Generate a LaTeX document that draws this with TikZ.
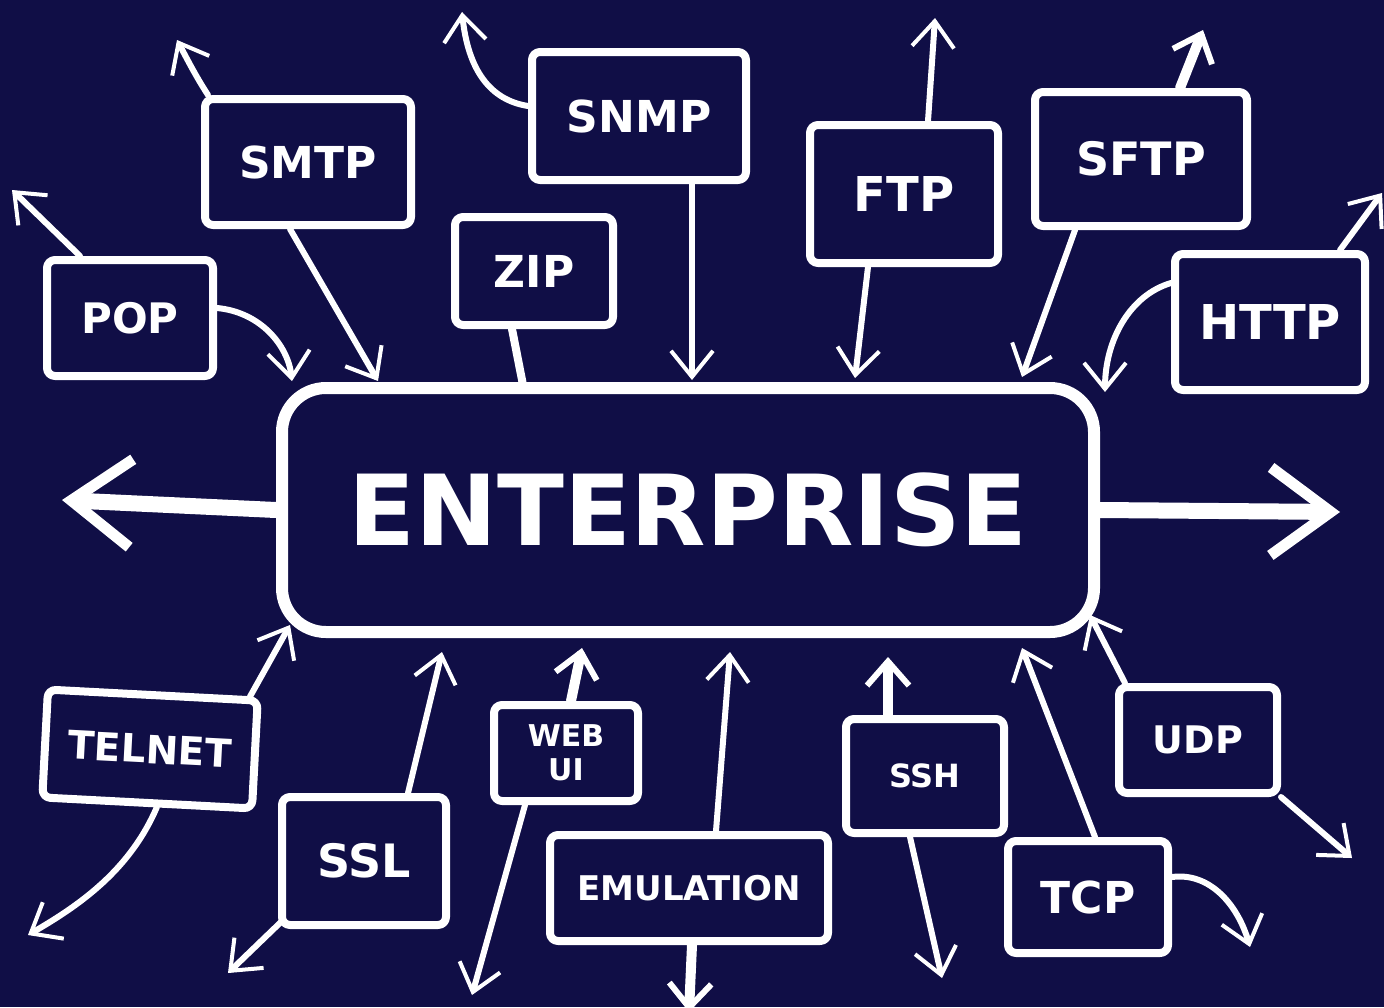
\documentclass[tikz,border=0pt]{standalone}
\usepackage{fontspec}
\setmainfont{DejaVu Sans}
\usetikzlibrary{arrows.meta}
\definecolor{bg}{RGB}{16,14,70}
\newcommand\labfont[1]{\fontsize{#1}{#1}\selectfont\bfseries}
\tikzset{
  box/.style={draw=white, line width=4pt, rounded corners=4pt, text=white,
    inner sep=0pt, align=center, line join=round},
  conn/.style={draw=white, line width=3pt, line cap=round,
    -{Straight Barb[length=13pt,width=21pt,line width=2pt]}},
  thickconn/.style={draw=white, line width=5pt, line cap=round,
    -{Straight Barb[length=12pt,width=21pt,line width=3pt]}},
  bigconn/.style={draw=white, line width=8pt, line cap=round,
    -{Straight Barb[length=30pt,width=44pt,line width=5.5pt]}},
  plain/.style={draw=white, line width=4pt, line cap=round}
}
\begin{document}
\begin{tikzpicture}[x=0.5pt,y=-0.5pt]
\fill[bg] (0,0) rectangle (1384,1007);
\useasboundingbox (0,0) rectangle (1384,1007);

% central node
\node[box, line width=6pt, rounded corners=22pt, minimum width=406pt, minimum height=122pt,
  font=\labfont{49}] (ent) at (688,510) {ENTERPRISE};

% top boxes
\node[box, minimum width=83pt, minimum height=58pt, font=\labfont{21}] (pop) at (130,318) {POP};
\node[box, minimum width=103pt, minimum height=63pt, font=\labfont{22}] (smtp) at (308,162) {SMTP};
\node[box, minimum width=79pt, minimum height=54pt, font=\labfont{22}] (zip) at (534,271) {ZIP};
\node[box, minimum width=107pt, minimum height=64pt, font=\labfont{22}] (snmp) at (639,116) {SNMP};
\node[box, minimum width=94pt, minimum height=69pt, font=\labfont{24}] (ftp) at (904,194) {FTP};
\node[box, minimum width=106pt, minimum height=67pt, font=\labfont{23}] (sftp) at (1141,159) {SFTP};
\node[box, minimum width=95pt, minimum height=68pt, font=\labfont{24}] (http) at (1270,322) {HTTP};

% bottom boxes
\node[box, rotate=-3, minimum width=105pt, minimum height=54pt, font=\labfont{19.5}] (telnet) at (150,749) {TELNET};
\node[box, minimum width=82pt, minimum height=64pt, font=\labfont{23}] (ssl) at (364,861) {SSL};
\node[box, minimum width=72pt, minimum height=48pt, font=\fontsize{15}{17}\selectfont\bfseries] (webui) at (566,753) {WEB\\UI};
\node[box, minimum width=139pt, minimum height=53pt, font=\labfont{17}] (emu) at (689,888) {EMULATION};
\node[box, minimum width=79pt, minimum height=57pt, font=\labfont{16}] (ssh) at (925,776) {SSH};
\node[box, minimum width=80pt, minimum height=56pt, font=\labfont{22}] (tcp) at (1088,897) {TCP};
\node[box, minimum width=79pt, minimum height=53pt, font=\labfont{19}] (udp) at (1198,740) {UDP};

% free ends
\coordinate (popA) at (12,190);
\coordinate (popB) at (292,381);
\coordinate (smtpA) at (177,40);
\coordinate (smtpB) at (378,381);
\coordinate (zipB) at (523,385);
\coordinate (snmpA) at (462,12);
\coordinate (snmpB) at (692,380);
\coordinate (ftpA) at (935,18);
\coordinate (ftpB) at (855,378);
\coordinate (sftpA) at (1203,30);
\coordinate (sftpB) at (1022,377);
\coordinate (httpA) at (1105,392);
\coordinate (httpB) at (1382,193);
\coordinate (entL) at (62,500);
\coordinate (entR) at (1340,512);
\coordinate (telA) at (290,625);
\coordinate (telB) at (28,935);
\coordinate (sslA) at (442,652);
\coordinate (sslB) at (228,973);
\coordinate (webA) at (582,648);
\coordinate (webB) at (472,995);
\coordinate (emuA) at (730,652);
\coordinate (emuB) at (689,1012);
\coordinate (sshA) at (888,657);
\coordinate (sshB) at (942,978);
\coordinate (tcpA) at (1022,648);
\coordinate (tcpB) at (1250,947);
\coordinate (udpA) at (1090,615);
\coordinate (udpB) at (1352,858);

% connectors
\draw[conn] ([xshift=-25pt]pop.north) -- (popA);
\draw[conn] ([yshift=5pt]pop.east) .. controls (260,312) and (288,345) .. (popB);
\draw[conn] ([xshift=-50pt]smtp.north) .. controls (195,75) and (185,55) .. (smtpA);
\draw[conn] ([xshift=-9pt]smtp.south) -- (smtpB);
\draw[plain] ([xshift=-11pt]zip.south) -- (zipB);
\draw[conn] ([yshift=5pt]snmp.west) .. controls (490,100) and (468,70) .. (snmpA);
\draw[conn] ([xshift=26.5pt]snmp.south) -- (snmpB);
\draw[conn] ([xshift=12pt]ftp.north) -- (ftpA);
\draw[conn] ([xshift=-18pt]ftp.south) -- (ftpB);
\draw[thickconn] ([xshift=19.5pt]sftp.north) -- (sftpA);
\draw[conn] ([xshift=-33pt]sftp.south) -- (sftpB);
\draw[conn] ([yshift=19.5pt]http.west) .. controls (1130,295) and (1105,340) .. (httpA);
\draw[conn] ([xshift=35pt]http.north) -- (httpB);
\draw[bigconn] (ent.west) -- (entL);
\draw[bigconn] (ent.east) -- (entR);
\draw[conn] ([xshift=-6pt]telnet.north east) -- (telA);
\draw[conn] ([xshift=5pt]telnet.south) .. controls (130,870) and (80,905) .. (telB);
\draw[conn] ([xshift=22pt]ssl.north) -- (sslA);
\draw[conn] ([xshift=2pt,yshift=4pt]ssl.south west) -- (sslB);
\draw[thickconn] ([xshift=2.5pt]webui.north) -- (webA);
\draw[conn] ([xshift=-20.5pt]webui.south) -- (webB);
\draw[conn] ([xshift=13.5pt]emu.north) -- (emuA);
\draw[thickconn] ([xshift=1.5pt]emu.south) -- (emuB);
\draw[thickconn] ([xshift=-18.5pt]ssh.north) -- (sshA);
\draw[conn] ([xshift=-7.5pt]ssh.south) -- (sshB);
\draw[conn] ([xshift=3.5pt]tcp.north) -- (tcpA);
\draw[conn] ([yshift=10pt]tcp.east) .. controls (1210,872) and (1238,905) .. (tcpB);
\draw[conn] ([xshift=-36.5pt]udp.north) -- (udpA);
\draw[conn] (udp.south east) -- (udpB);
\end{tikzpicture}
\end{document}
